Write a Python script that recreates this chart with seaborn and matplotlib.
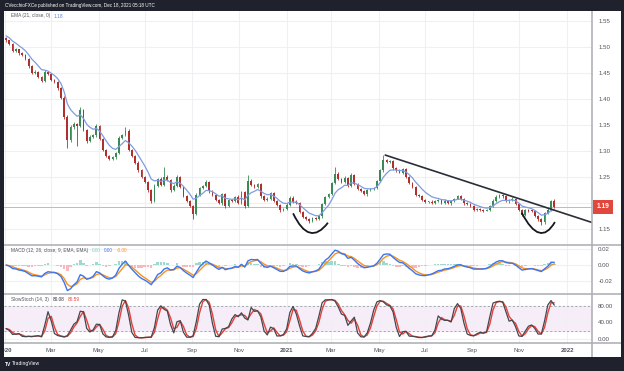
import numpy as np
import pandas as pd
import matplotlib
matplotlib.use("Agg")
import matplotlib.pyplot as plt
import seaborn as sns
from matplotlib.lines import Line2D
from matplotlib.patches import Rectangle, PathPatch
from matplotlib.path import Path
import matplotlib.transforms as mtransforms

# closes on 3-trading-day bars, Jan 2020 -> Dec 17 2021
closes = [
    1.512, 1.505, 1.492, 1.495, 1.487, 1.484, 1.476, 1.462, 1.450, 1.452,
    1.442, 1.434, 1.452, 1.448, 1.436, 1.432, 1.420, 1.402, 1.365, 1.320,
    1.345, 1.352, 1.348, 1.378, 1.340, 1.318, 1.327, 1.330, 1.348, 1.322,
    1.302, 1.290, 1.284, 1.287, 1.296, 1.325, 1.330, 1.338, 1.302, 1.290,
    1.277, 1.262, 1.250, 1.240, 1.224, 1.204, 1.232, 1.246, 1.235, 1.250,
    1.244, 1.224, 1.232, 1.250, 1.230, 1.212, 1.203, 1.193, 1.178, 1.215,
    1.228, 1.232, 1.240, 1.222, 1.215, 1.205, 1.199, 1.216, 1.193, 1.205,
    1.203, 1.211, 1.200, 1.220, 1.193, 1.242, 1.234, 1.230, 1.236, 1.212,
    1.205, 1.208, 1.218, 1.203, 1.195, 1.186, 1.188, 1.196, 1.210, 1.202,
    1.200, 1.182, 1.173, 1.169, 1.164, 1.170, 1.168, 1.174, 1.198, 1.211,
    1.216, 1.238, 1.256, 1.246, 1.240, 1.248, 1.232, 1.254, 1.236, 1.226,
    1.222, 1.216, 1.224, 1.226, 1.228, 1.242, 1.262, 1.282, 1.278, 1.280,
    1.266, 1.262, 1.258, 1.264, 1.250, 1.238, 1.230, 1.215, 1.212, 1.206,
    1.202, 1.202, 1.199, 1.203, 1.205, 1.199, 1.204, 1.199, 1.203, 1.208,
    1.212, 1.208, 1.199, 1.197, 1.194, 1.186, 1.188, 1.186, 1.185, 1.186,
    1.194, 1.204, 1.211, 1.214, 1.212, 1.203, 1.206, 1.208, 1.198, 1.186,
    1.177, 1.186, 1.185, 1.184, 1.174, 1.168, 1.162, 1.180, 1.186, 1.204,
    1.192,
]
# wick lengths in pips above / below the body
wick_up = [
    20, 15, 25, 20, 15, 20, 25, 15, 20, 30,
    15, 20, 25, 20, 15, 20, 15, 20, 25, 30,
    40, 30, 20, 70, 30, 25, 30, 20, 25, 20,
    25, 20, 15, 20, 25, 30, 20, 80, 30, 20,
    20, 25, 20, 15, 20, 30, 40, 25, 30, 190,
    30, 25, 40, 30, 20, 25, 20, 15, 20, 30,
    25, 30, 35, 20, 25, 15, 20, 25, 20, 30,
    25, 20, 30, 25, 20, 110, 30, 25, 20, 15,
    20, 25, 30, 20, 15, 20, 25, 30, 20, 25,
    30, 20, 15, 20, 15, 20, 25, 30, 20, 25,
    30, 25, 130, 30, 25, 30, 20, 25, 20, 15,
    20, 25, 20, 15, 20, 25, 30, 100, 25, 30,
    20, 25, 30, 20, 25, 20, 15, 20, 25, 20,
    15, 20, 25, 20, 15, 20, 25, 20, 15, 20,
    25, 30, 20, 15, 20, 25, 20, 15, 20, 25,
    20, 25, 30, 25, 20, 25, 20, 25, 20, 15,
    20, 25, 20, 25, 20, 15, 20, 25, 30, 20,
    40,
]
wick_dn = [
    20, 25, 15, 20, 25, 15, 20, 25, 20, 15,
    25, 20, 15, 20, 25, 20, 30, 25, 40, 150,
    30, 25, 380, 20, 25, 30, 20, 25, 30, 20,
    25, 30, 20, 15, 20, 25, 20, 15, 25, 20,
    25, 20, 25, 30, 25, 40, 20, 25, 30, 20,
    25, 30, 20, 25, 20, 15, 25, 20, 100, 25,
    20, 25, 20, 30, 20, 25, 20, 30, 25, 20,
    15, 20, 25, 20, 30, 20, 25, 20, 15, 25,
    20, 15, 20, 25, 20, 30, 20, 15, 20, 25,
    20, 25, 30, 20, 25, 20, 15, 20, 25, 20,
    25, 20, 15, 20, 25, 20, 15, 20, 25, 20,
    15, 20, 25, 20, 15, 20, 15, 20, 25, 20,
    25, 20, 15, 20, 25, 20, 25, 20, 15, 20,
    25, 20, 15, 20, 25, 20, 15, 20, 25, 20,
    15, 20, 25, 20, 15, 25, 20, 25, 20, 15,
    20, 25, 20, 15, 25, 20, 40, 20, 15, 20,
    20, 25, 20, 15, 20, 25, 40, 20, 25, 20,
    15,
]
first_open = 1.516
ema_start = 1.524

month_starts = ['2020-01-01', '2020-03-01', '2020-05-01', '2020-07-01', '2020-09-01',
                '2020-11-01', '2021-01-01', '2021-03-01', '2021-05-01', '2021-07-01',
                '2021-09-01', '2021-11-01', '2022-01-01']
month_labels = ['2020', 'Mar', 'May', 'Jul', 'Sep', 'Nov', '2021', 'Mar', 'May', 'Jul',
                'Sep', 'Nov', '2022']
price_ticks = [1.15, 1.20, 1.25, 1.30, 1.35, 1.40, 1.45, 1.50, 1.55]
price_tick_labels = ['1.15', '', '1.25', '1.30', '1.35', '1.40', '1.45', '1.50', '1.55']
macd_ticks = [-0.02, 0.00, 0.02]
stoch_ticks = [0, 40, 80]

# hand-drawn annotations (bar index, price)
trend_x = [117.4, 181.7]
trend_y = [1.292, 1.162]
arcs = [((89.0, 1.1796), (94.2, 1.1423), (99.8, 1.1615)),
        ((159.9, 1.1808), (165.3, 1.1423), (170.2, 1.1629))]
last_label = '1.19'
ema_label = '1.18'
macd_values = ['0.00', '0.00', '-0.00']
stoch_values = ['80.08', '80.59']

GREEN = '#3a8a55'
RED = '#b0302d'
GRID = '#eef0f4'
SEP = '#a9acb3'
DARK = '#1f222d'
TXT = '#50535e'
LEG = 3.4

df = pd.DataFrame({'close': closes})
df['x'] = np.arange(len(df))
df['open'] = [first_open] + closes[:-1]
df['high'] = df[['open', 'close']].max(axis=1) + np.array(wick_up) * 1e-4
df['low'] = df[['open', 'close']].min(axis=1) - np.array(wick_dn) * 1e-4


def span3(n):
    # daily EMA length -> span on 3-day bars
    a = 1 - (1 - 2 / (n + 1)) ** 3
    return 2 / a - 1


s = pd.concat([pd.Series([ema_start]), df['close']], ignore_index=True)
df['ema'] = s.ewm(span=span3(21), adjust=False).mean().iloc[1:].values
fast = df['close'].ewm(span=span3(12), adjust=False).mean()
slow = df['close'].ewm(span=span3(26), adjust=False).mean()
df['macd'] = fast - slow
df['signal'] = df['macd'].ewm(span=span3(9), adjust=False).mean()
df['hist'] = df['macd'] - df['signal']
hh = df['high'].rolling(5, min_periods=1).max()
ll = df['low'].rolling(5, min_periods=1).min()
raw = 100 * (df['close'] - ll) / (hh - ll)
df['k'] = raw.rolling(2, min_periods=1).mean()
df['d'] = df['k'].rolling(2, min_periods=1).mean()

sns.set_style('white')
plt.rcParams['font.family'] = ['Liberation Sans', 'DejaVu Sans']

W, H = 624, 371
fig = plt.figure(figsize=(6.24, 3.71), dpi=100)
fig.patch.set_facecolor(DARK)


def box(top, bottom, left=4, right=592):
    return [left / W, 1 - bottom / H, (right - left) / W, (bottom - top) / H]


def legend(ax, y_frac, label, values):
    t = ax.text(7 / 588, y_frac, label, transform=ax.transAxes, fontsize=LEG, color=TXT, va='center')
    for val, col in values:
        t = ax.annotate(val, xy=(1, 0.5), xycoords=t, xytext=(2.6, 0), textcoords='offset points',
                        fontsize=LEG, color=col, va='center', ha='left')


fig.patches.append(Rectangle((4 / W, 1 - 357 / H), 617 / W, 346 / H, transform=fig.transFigure,
                             facecolor='white', edgecolor='none', zorder=-1))

ax1 = fig.add_axes(box(11, 245))
ax2 = fig.add_axes(box(245, 294), sharex=ax1)
ax3 = fig.add_axes(box(294, 343), sharex=ax1)

# price pane
up = df['close'] >= df['open']
cols = np.where(up, GREEN, RED)
ax1.vlines(df['x'], df['low'], df['high'], colors=cols, linewidth=0.6, zorder=3)
body = (df['close'] - df['open']).abs().clip(lower=0.0012)
ax1.bar(df['x'], body, bottom=df[['open', 'close']].min(axis=1), width=0.55,
        color=cols, linewidth=0, zorder=3)
sns.lineplot(data=df, x='x', y='ema', ax=ax1, color='#7f9ce0', linewidth=0.9, zorder=4)
ax1.axhline(df['close'].iloc[-1], color='#f5a3a3', linewidth=0.7, zorder=2)
ax1.plot(trend_x, trend_y, color='#2a2e39', linewidth=1.2, zorder=5, solid_capstyle='butt')
for p0, pm, p2 in arcs:
    p0, pm, p2 = np.array(p0), np.array(pm), np.array(p2)
    ctrl = 2 * pm - (p0 + p2) / 2
    path = Path([p0, ctrl, p2], [Path.MOVETO, Path.CURVE3, Path.CURVE3])
    ax1.add_patch(PathPatch(path, facecolor='none', edgecolor='#16181f', linewidth=1.3, zorder=5))
ax1.set_ylim(1.1187, 1.5687)
ax1.set_yticks(price_ticks)
ax1.set_yticklabels(price_tick_labels)
trans = mtransforms.blended_transform_factory(ax1.transAxes, ax1.transData)
ax1.text(1.0075, df['close'].iloc[-1], last_label, transform=trans, color='white', fontsize=4.8,
         fontweight='bold', va='center', ha='left', clip_on=False, zorder=10,
         bbox=dict(boxstyle='square,pad=0.55', facecolor='#e0483d', edgecolor='none'))
legend(ax1, 1 - 5 / 234, 'EMA (21, close, 0)', [(ema_label, '#5b7fd6')])

# MACD pane
hcol = np.where(df['hist'] >= 0, '#9fd8cc', '#f8b9bd')
ax2.bar(df['x'], df['hist'], width=0.8, color=hcol, linewidth=0, zorder=2)
sns.lineplot(data=df, x='x', y='macd', ax=ax2, color='#3d74f2', linewidth=1.0, zorder=4)
sns.lineplot(data=df, x='x', y='signal', ax=ax2, color='#f7931e', linewidth=1.0, zorder=3)
ax2.set_ylim(-0.036, 0.025)
ax2.set_yticks(macd_ticks)
ax2.set_yticklabels([f'{t:.2f}' for t in macd_ticks])
legend(ax2, 1 - 5.5 / 49, 'MACD (12, 26, close, 9, EMA, EMA)',
       list(zip(macd_values, ['#7fcfbf', '#3d74f2', '#f7931e'])))

# Stoch pane
ax3.axhspan(20, 80, color='#f6edf8', zorder=0)
for lv in (20, 80):
    ax3.axhline(lv, color='#9a9ca3', linewidth=0.6, linestyle=(0, (2.5, 2.5)), zorder=1)
sns.lineplot(data=df, x='x', y='d', ax=ax3, color='#e5423b', linewidth=1.0, zorder=3)
sns.lineplot(data=df, x='x', y='k', ax=ax3, color='#45474f', linewidth=0.9, zorder=4)
ax3.set_ylim(-10, 109)
ax3.set_yticks(stoch_ticks)
ax3.set_yticklabels([f'{t:.2f}' for t in stoch_ticks])
legend(ax3, 1 - 5.5 / 49, 'SlowStoch (14, 3)', list(zip(stoch_values, ['#2a2e39', '#e5423b'])))

# shared time axis (bar index -> month starts)
tick_pos = [(np.busday_count('2020-01-01', m) - 1) / 3 for m in month_starts]
ax3.set_xticks(tick_pos)
ax3.set_xticklabels(month_labels)
for lab in ax3.get_xticklabels():
    if lab.get_text().startswith('20'):
        lab.set_fontweight('bold')
ax1.set_xlim(-0.65, 181.7)

for ax in (ax1, ax2, ax3):
    ax.set_xlabel('')
    ax.set_ylabel('')
    ax.set_facecolor('white')
    for sp in ax.spines.values():
        sp.set_visible(False)
    ax.yaxis.tick_right()
    ax.tick_params(axis='y', length=0, pad=4.5, labelsize=4.4, labelcolor=TXT)
    ax.tick_params(axis='x', length=0, pad=3.6, labelsize=4.4, labelcolor=TXT)
    ax.grid(True, color=GRID, linewidth=0.8)
    ax.set_axisbelow(True)
ax1.tick_params(labelbottom=False)
ax2.tick_params(labelbottom=False)

# pane separators
for yy in (245, 294, 343):
    fig.lines.append(Line2D([4 / W, 621 / W], [1 - yy / H] * 2, transform=fig.transFigure,
                            color=SEP, linewidth=1.1, zorder=6))
fig.lines.append(Line2D([592 / W] * 2, [1 - 11 / H, 1 - 357 / H], transform=fig.transFigure,
                        color=SEP, linewidth=1.1, zorder=6))

# dark frame on top
for (x0, y0, w, h) in [(0, 0, 4, 371), (621, 0, 3, 371), (0, 0, 624, 11), (0, 357, 624, 14)]:
    fig.patches.append(Rectangle((x0 / W, 1 - (y0 + h) / H), w / W, h / H, transform=fig.transFigure,
                                 facecolor=DARK, edgecolor='none', zorder=8))
fig.text(5 / W, 1 - 5.5 / H, 'CVecchioFXCe published on TradingView.com, Dec 18, 2021 05:18 UTC',
         color='white', fontsize=3.3, va='center', zorder=9)
fig.text(5 / W, 1 - 364 / H, 'TV', color='white', fontsize=3.6, fontweight='bold', va='center', zorder=9)
fig.text(12 / W, 1 - 364 / H, 'TradingView', color='white', fontsize=3.6, va='center', zorder=9)

fig.savefig('out.png', dpi=100, facecolor=fig.get_facecolor())
